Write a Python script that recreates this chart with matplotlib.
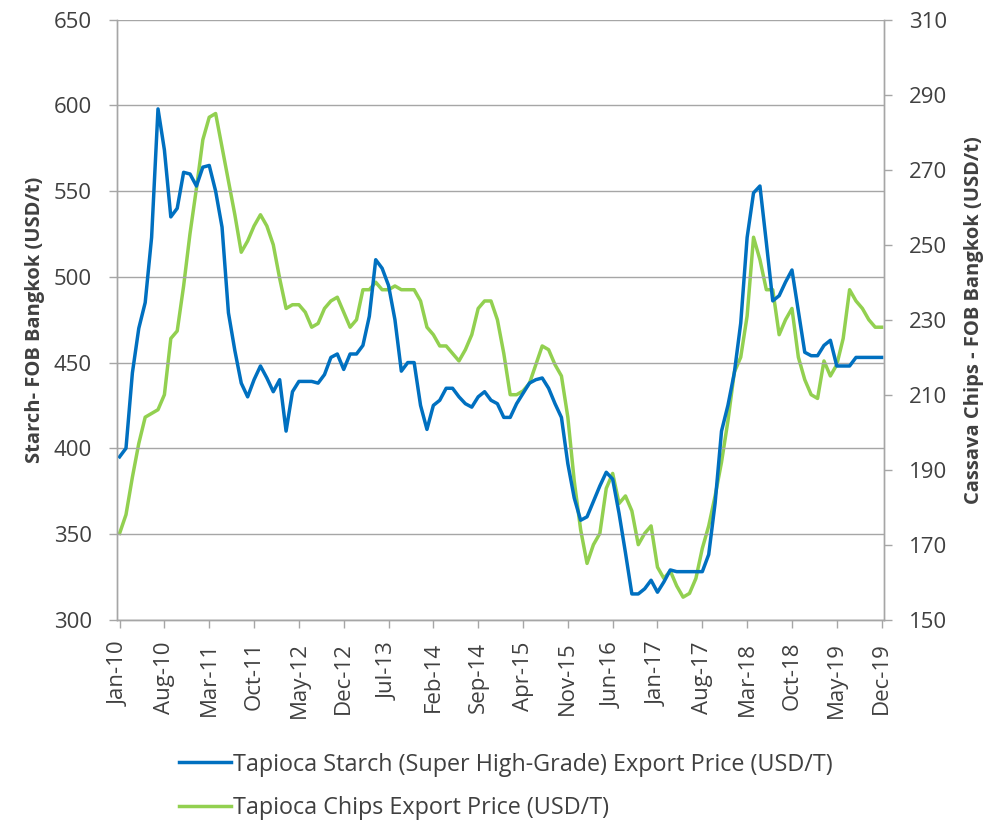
import numpy as np
import pandas as pd
import matplotlib
matplotlib.use("Agg")
import matplotlib.pyplot as plt

plt.rcParams['font.family'] = ['Open Sans', 'DejaVu Sans']

# monthly, Jan-2010 .. Dec-2019
months = pd.date_range("2010-01-01", "2019-12-01", freq="MS")

starch = [395, 400, 444, 470, 485, 523, 598, 574, 535, 540, 561, 560, 553, 564, 565, 550,
          529, 479, 457, 438, 430, 440, 448, 441, 433, 440, 410, 433, 439,
          439, 439, 438, 443, 453, 455, 446, 455, 455, 460, 477, 510, 505, 495, 475, 445,
          450, 450, 425, 411, 425, 428, 435, 435, 430, 426, 424, 430, 433, 428, 426, 418,
          418, 426, 432, 438, 440,
          441, 435, 426, 418, 391, 371, 358, 360, 369, 378, 386, 382, 362, 339, 315, 315,
          318, 323, 316, 322, 329, 328, 328, 328, 328, 328, 338, 368,
          410, 425, 444, 473, 523, 549, 553, 520, 486, 489, 497, 504, 480, 456, 454, 454,
          460, 463, 448, 448, 448, 453, 453, 453, 453, 453]

chips = [173, 178, 188, 197, 204, 205, 206, 210, 225, 227, 239, 253, 265, 278, 284, 285,
         276, 267, 258, 248, 251, 255, 258, 255, 250, 241, 233, 234, 234,
         232, 228, 229, 233, 235, 236, 232, 228, 230, 238, 238, 240, 238, 238, 239, 238,
         238, 238, 235, 228, 226, 223, 223, 221, 219, 222, 226, 233, 235, 235, 230, 221,
         210, 210, 211, 213, 218,
         223, 222, 218, 215, 204, 187, 174, 165, 170, 173, 185, 189, 181, 183, 179, 170,
         173, 175, 164, 161, 163, 159, 156, 157, 161, 169, 175, 183,
         192, 203, 216, 220, 231, 252, 246, 238, 238, 226, 230, 233, 220, 214, 210, 209,
         219, 215, 218, 225, 238, 235, 233, 230, 228, 228]

tick_idx = list(range(0, 120, 7))
tick_labels = [months[i].strftime("%b-%y") for i in tick_idx]

blue = '#0070C0'
green = '#92D050'
grid_c = '#A6A6A6'
text_c = '#404040'

fig = plt.figure(figsize=(9.89, 8.24), dpi=100)
ax = fig.add_axes([0.118, 0.248, 0.776, 0.728])
ax2 = ax.twinx()

x = np.arange(len(months))
l1, = ax.plot(x, starch, color=blue, lw=2.5, solid_joinstyle='round',
              label='Tapioca Starch (Super High-Grade) Export Price (USD/T)')
l2, = ax2.plot(x, chips, color=green, lw=2.5, solid_joinstyle='round',
               label='Tapioca Chips Export Price (USD/T)')
ax.set_zorder(ax2.get_zorder() + 1)
ax.patch.set_visible(False)

ax.set_xlim(-0.45, 119.4)
ax.set_ylim(300, 650)
ax.set_yticks(range(300, 651, 50))
ax2.set_ylim(150, 310)
ax2.set_yticks(range(150, 311, 20))

ax.set_xticks(tick_idx)
ax.set_xticklabels(tick_labels, rotation=90)

ax.grid(axis='y', color=grid_c, lw=1.0)
ax.set_axisbelow(True)

for a in (ax, ax2):
    a.spines['top'].set_visible(False)
    for s in ('left', 'right', 'bottom'):
        a.spines[s].set_color(grid_c)
        a.spines[s].set_linewidth(1.0)
    a.tick_params(colors=grid_c, labelcolor=text_c, labelsize=16, length=6, width=1)
ax.tick_params(axis='y', pad=12)
ax.tick_params(axis='x', pad=10)
ax2.tick_params(axis='y', pad=12)

ax.set_ylabel('Starch- FOB Bangkok (USD/t)', fontsize=14.5, fontweight='bold',
              color=text_c, labelpad=6)
ax2.set_ylabel('Cassava Chips - FOB Bangkok (USD/t)', fontsize=14.5, fontweight='bold',
               color=text_c, rotation=90, labelpad=12)

fig.legend(handles=[l1, l2], loc='upper left', bbox_to_anchor=(0.172, 0.098),
           ncol=1, frameon=False, fontsize=16.8, handlelength=2.2, handletextpad=0.1,
           labelspacing=0.85, labelcolor=text_c, borderaxespad=0)

fig.savefig('out.png', dpi=100)
